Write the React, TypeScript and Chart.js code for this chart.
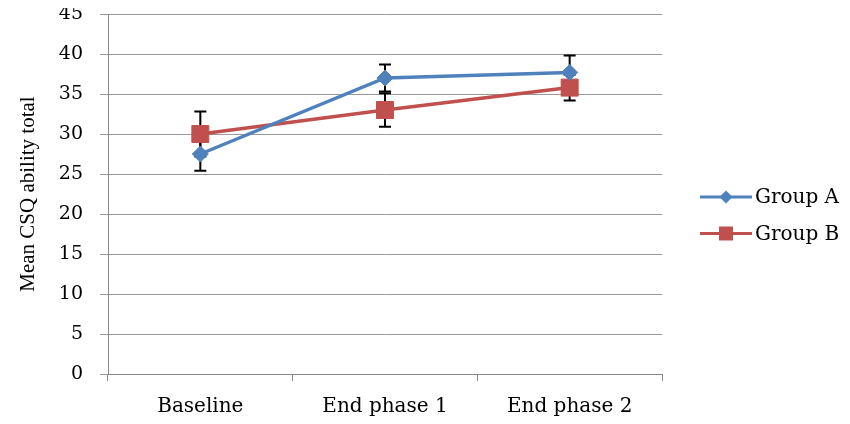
import { useEffect, useRef } from "react";
import { Chart, registerables } from "chart.js";

Chart.register(...registerables);

const categories = ["Baseline", "End phase 1", "End phase 2"];
const seriesNames = ["Group A", "Group B"];
const groupA = [27.5, 37.0, 37.7];
const groupB = [30.0, 33.0, 35.8];
const errorA = [2.1, 1.7, 2.1];
const errorB = [2.8, 2.1, 1.6];
const yMin = 0;
const yMax = 45;
const yStep = 5;
const yTitle = "Mean CSQ ability total";

const errors = [errorA, errorB];
const colors = ["#4F81BD", "#C0504D"];
const markers = ["diamond", "square"];

const errorBarPlugin = {
  id: "errorBars",
  beforeDatasetsDraw(chart: any) {
    const { ctx } = chart;
    const x = chart.scales.x;
    const y = chart.scales.y;
    ctx.save();
    ctx.strokeStyle = "#000";
    ctx.lineWidth = 2;
    chart.data.datasets.forEach((ds: any, di: number) => {
      const errs = errors[di];
      ds.data.forEach((v: number, i: number) => {
        const px = x.getPixelForValue(i);
        const top = y.getPixelForValue(v + errs[i]);
        const bot = y.getPixelForValue(v - errs[i]);
        ctx.beginPath();
        ctx.moveTo(px, top);
        ctx.lineTo(px, bot);
        ctx.moveTo(px - 6, top);
        ctx.lineTo(px + 6, top);
        ctx.moveTo(px - 6, bot);
        ctx.lineTo(px + 6, bot);
        ctx.stroke();
      });
    });
    ctx.restore();
  },
};

const legendPlugin = {
  id: "sideLegend",
  afterDraw(chart: any) {
    const { ctx, chartArea } = chart;
    const cy = (chartArea.top + chartArea.bottom) / 2;
    const x0 = chartArea.right + 38;
    const len = 52;
    ctx.save();
    chart.data.datasets.forEach((ds: any, i: number) => {
      const y = cy + (i === 0 ? 3 : 39.5);
      ctx.strokeStyle = colors[i];
      ctx.fillStyle = colors[i];
      ctx.lineWidth = 3;
      ctx.beginPath();
      ctx.moveTo(x0, y);
      ctx.lineTo(x0 + len, y);
      ctx.stroke();
      const mx = x0 + len / 2;
      ctx.beginPath();
      if (markers[i] === "diamond") {
        const r = 6.5;
        ctx.moveTo(mx, y - r);
        ctx.lineTo(mx + r, y);
        ctx.lineTo(mx, y + r);
        ctx.lineTo(mx - r, y);
        ctx.closePath();
      } else {
        const s = 7;
        ctx.rect(mx - s, y - s, 2 * s, 2 * s);
      }
      ctx.fill();
      ctx.fillStyle = "#000";
      ctx.font = "20px 'DejaVu Serif'";
      ctx.textAlign = "left";
      ctx.textBaseline = "middle";
      ctx.fillText(ds.label, x0 + len + 3, y + 1);
    });
    ctx.restore();
  },
};

export default function App() {
  const ref = useRef<HTMLCanvasElement | null>(null);
  useEffect(() => {
    if (!ref.current) return;
    const chart = new Chart(ref.current, {
      type: "line",
      data: {
        labels: categories,
        datasets: [
          {
            label: seriesNames[0],
            data: groupA,
            borderColor: colors[0],
            backgroundColor: colors[0],
            borderWidth: 3.5,
            pointStyle: "rectRot",
            pointRadius: 8,
            pointBorderWidth: 1,
            tension: 0,
          },
          {
            label: seriesNames[1],
            data: groupB,
            borderColor: colors[1],
            backgroundColor: colors[1],
            borderWidth: 3.5,
            pointStyle: "rect",
            pointRadius: 12,
            pointBorderWidth: 1,
            tension: 0,
          },
        ],
      },
      options: {
        animation: false,
        responsive: true,
        maintainAspectRatio: false,
        layout: {
          autoPadding: false,
          padding: { top: 14, right: 180, left: 0, bottom: 0 },
        },
        plugins: {
          legend: { display: false },
          tooltip: { enabled: false },
        },
        scales: {
          x: {
            type: "category",
            offset: true,
            afterFit: (s: any) => {
              s.height = 42;
              s.paddingLeft = 0;
              s.paddingRight = 0;
            },
            grid: {
              offset: true,
              drawOnChartArea: false,
              drawTicks: true,
              tickLength: 7,
              color: "#888",
            },
            border: { color: "#888" },
            ticks: {
              color: "#000",
              font: { family: "'DejaVu Serif'", size: 20 },
              padding: 14,
            },
          },
          y: {
            min: yMin,
            max: yMax,
            afterFit: (s: any) => {
              s.width = 100;
              s.paddingTop = 0;
              s.paddingBottom = 0;
            },
            grid: { color: "#999", tickLength: 8 },
            border: { color: "#888" },
            ticks: {
              stepSize: yStep,
              color: "#000",
              font: { family: "'DejaVu Serif'", size: 19 },
              padding: 17,
            },
            title: {
              display: true,
              text: yTitle,
              color: "#000",
              font: { family: "'Liberation Serif'", size: 21 },
              padding: { top: 8, bottom: 0 },
            },
          },
        },
      },
      plugins: [errorBarPlugin, legendPlugin],
    });
    return () => chart.destroy();
  }, []);
  return (
    <div style={{ width: 834, height: 416, marginTop: -8 }}>
      <canvas ref={ref} />
    </div>
  );
}
